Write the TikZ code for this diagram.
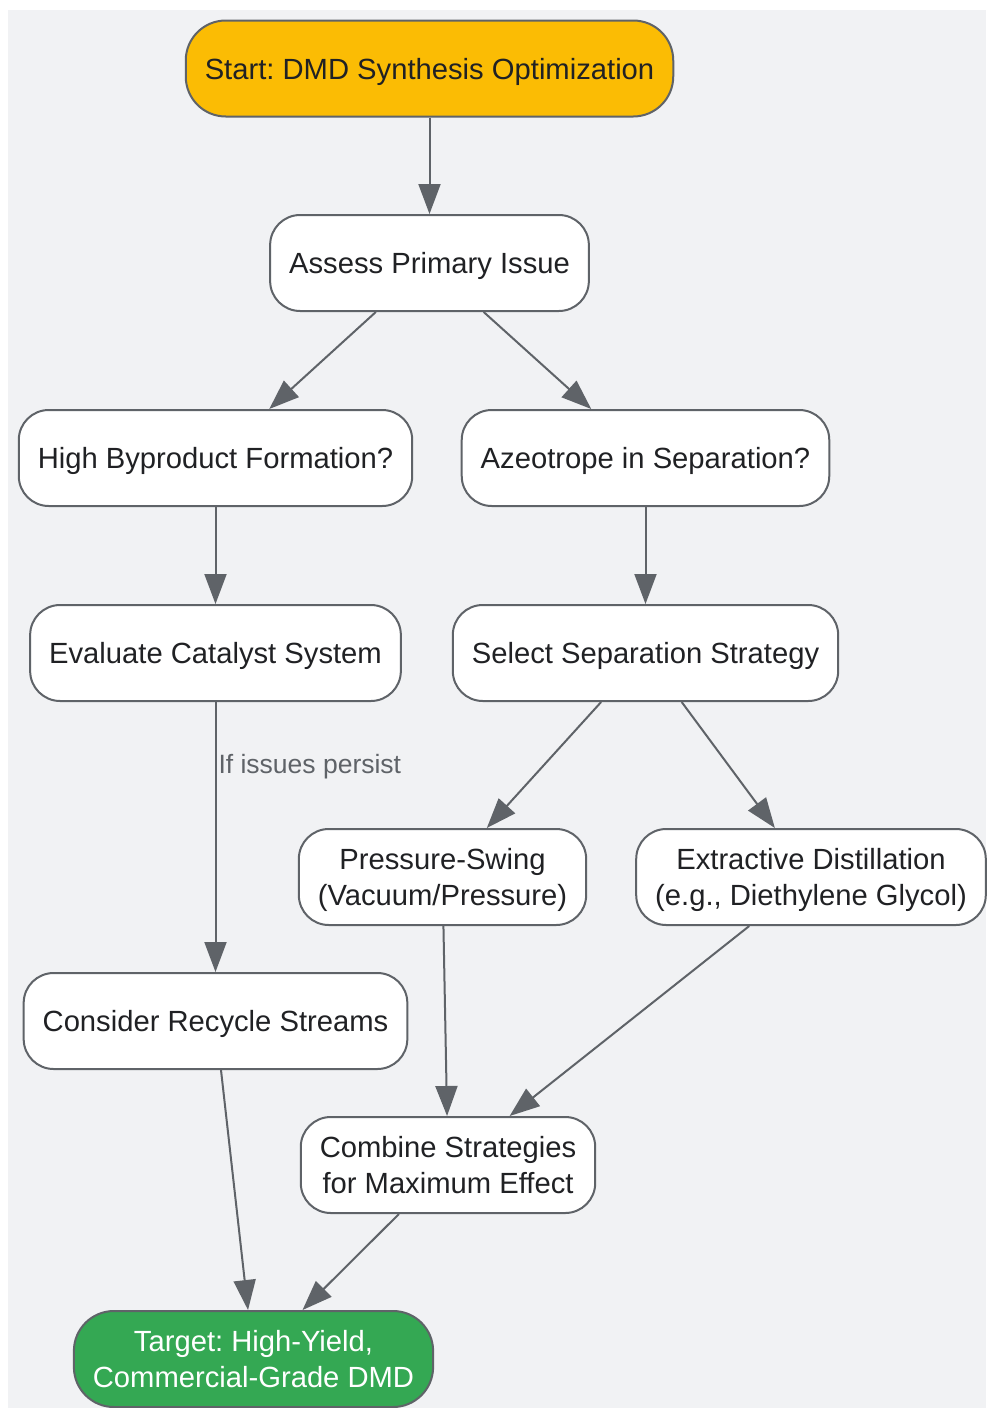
\documentclass[tikz,border=0pt]{standalone}
\usepackage{fontspec}
\setmainfont{Liberation Sans}
\usetikzlibrary{arrows.meta}
\frenchspacing

\definecolor{bggray}{HTML}{F1F2F4}
\definecolor{linegray}{HTML}{5F6368}
\definecolor{textdark}{HTML}{202124}
\definecolor{startyellow}{HTML}{FBBC04}
\definecolor{targetgreen}{HTML}{34A853}

\tikzset{
  box/.style={draw=linegray, line width=2pt, rounded corners=30pt, fill=white,
    minimum height=96pt, inner xsep=19pt, align=center, text=textdark,
    text depth=0pt, font=\fontsize{29.2}{36}\selectfont},
  startbox/.style={box, fill=startyellow, rounded corners=40pt},
  targetbox/.style={box, fill=targetgreen, text=white, rounded corners=40pt},
  arrow/.style={draw=linegray, line width=2pt, -{Triangle[length=30pt,width=22pt]}},
  edgelabel/.style={text=linegray, font=\fontsize{26.5}{32}\selectfont, inner xsep=2pt}
}

\begin{document}
\begin{tikzpicture}[x=1pt,y=-1pt]
\useasboundingbox (0,0) rectangle (986,1408);
\fill[bggray] (8,10) rectangle (986,1408);

% nodes
\node[startbox] (start) at (429.5,68.5) {Start: DMD Synthesis Optimization};
\node[box] (assess) at (429.5,263) {Assess Primary Issue};
\node[box] (byproduct) at (215.5,458) {High Byproduct Formation?};
\node[box] (azeotrope) at (645.5,458) {Azeotrope in Separation?};
\node[box] (catalyst) at (215.5,653) {Evaluate Catalyst System};
\node[box] (strategy) at (645.5,653) {Select Separation Strategy};
\node[box] (pswing) at (442.5,877) {Pressure-Swing\\(Vacuum/Pressure)};
\node[box] (extractive) at (811,877) {Extractive Distillation\\(e.g., Diethylene Glycol)};
\node[box] (recycle) at (215.5,1021) {Consider Recycle Streams};
\node[box] (combine) at (448,1165) {Combine Strategies\\for Maximum Effect};
\node[targetbox] (target) at (253.5,1359) {Target: High-Yield,\\Commercial-Grade DMD};

% connectors
\draw[arrow] (start) -- (assess);
\draw[arrow] (assess) -- (byproduct);
\draw[arrow] (assess) -- (azeotrope);
\draw[arrow] (byproduct) -- (catalyst);
\draw[arrow] (azeotrope) -- (strategy);
\draw[arrow] (catalyst) -- node[edgelabel, pos=0.24, anchor=west] {If issues persist} (recycle);
\draw[arrow] (strategy) -- (pswing);
\draw[arrow] (strategy) -- (extractive);
\draw[arrow] (pswing) -- (combine);
\draw[arrow] (extractive) -- (combine);
\draw[arrow] (recycle) -- (target);
\draw[arrow] (combine) -- (target);
\end{tikzpicture}
\end{document}
